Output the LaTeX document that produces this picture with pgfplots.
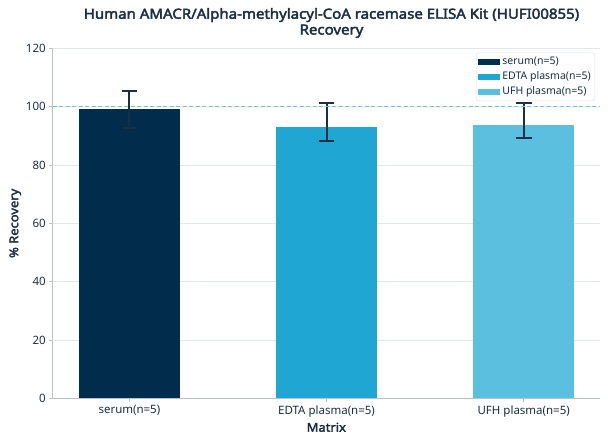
\documentclass[border=0pt]{standalone}
\usepackage{pgfplots}
\pgfplotsset{compat=1.18}
\usepackage{fontspec}
\setmainfont{Noto Sans}[BoldFont={Noto Sans}, BoldFeatures={FakeBold=2.2}]
\newfontfamily\heavy{Noto Sans}[FakeBold=2.8, FakeStretch=1.08]
\definecolor{cserum}{HTML}{022C4B}
\definecolor{cedta}{HTML}{1FA6D3}
\definecolor{cufh}{HTML}{5BBFDF}
\definecolor{ctext}{HTML}{1A2E44}
\definecolor{cref}{HTML}{7FC3D2}
\definecolor{cgrid}{HTML}{E3E8EC}
\definecolor{caxis}{HTML}{B8C2CA}
\begin{document}
\begin{tikzpicture}[x=1pt,y=1pt]
\path[use as bounding box] (0,0) rectangle (608,444);
\node[font=\fontsize{13.9}{15.8}\selectfont\heavy, text=ctext, align=center] at (331.5,421) {Human AMACR/Alpha-methylacyl-CoA racemase ELISA Kit (HUFI00855)\\Recovery};
\begin{axis}[
  at={(52.7pt,45.6pt)}, anchor=south west,
  scale only axis, width=547.3pt, height=350.1pt,
  xmin=-0.389, xmax=2.387, ymin=0, ymax=120,
  ytick={0,20,...,120},
  xtick={0,1,2},
  xticklabels={serum(n=5),EDTA plasma(n=5),UFH plasma(n=5)},
  /pgf/number format/assume math mode=true,
  tick label style={font=\fontsize{11.5}{13}\selectfont, text=ctext},
  xlabel={Matrix}, ylabel={\% Recovery},
  label style={font=\fontsize{12}{14}\selectfont\heavy, text=ctext},
  xlabel style={yshift=1pt},
  ylabel style={yshift=-2pt},
  axis x line*=bottom, axis y line*=left,
  axis line style={caxis, line width=0.8pt},
  tick style={caxis, line width=0.8pt},
  tick align=outside, major tick length=3.5pt,
  ymajorgrids, grid style={cgrid, line width=0.6pt},
  bar width=0.514,
  legend style={at={(1,1)}, anchor=north east, xshift=-5pt, yshift=-4.4pt,
    draw=black!12, rounded corners=2pt,
    font=\fontsize{10.5}{12}\selectfont, text=ctext, row sep=0pt, inner sep=1.5pt,
    nodes={text height=7.6pt, text depth=2.2pt, inner sep=2.6pt}},
  legend cell align=left,
  area legend,
  legend image code/.code={\fill[sharp corners,#1] (0pt,-3.3pt) rectangle (22pt,3.3pt);},
  error bars/error bar style={line width=2pt, color=ctext},
  error bars/error mark options={line width=2pt, color=ctext, mark size=7.8pt, rotate=90},
]
\addplot[ybar, bar shift=0, fill=cserum, draw=none,
  error bars/.cd, y dir=both, y explicit]
  coordinates {(0,99.1) +=(0,6.3) -=(0,6.3)};
\addlegendentry{serum(n=5)}
\addplot[ybar, bar shift=0, fill=cedta, draw=none,
  error bars/.cd, y dir=both, y explicit]
  coordinates {(1,92.9) +=(0,8.3) -=(0,4.8)};
\addlegendentry{EDTA plasma(n=5)}
\addplot[ybar, bar shift=0, fill=cufh, draw=none,
  error bars/.cd, y dir=both, y explicit]
  coordinates {(2,93.8) +=(0,7.4) -=(0,4.6)};
\addlegendentry{UFH plasma(n=5)}
\draw[cref, line width=0.8pt, dash pattern=on 4pt off 2.5pt] (axis cs:-0.389,100) -- (axis cs:2.387,100) -- ++(8pt,0);
\end{axis}
\end{tikzpicture}
\end{document}
